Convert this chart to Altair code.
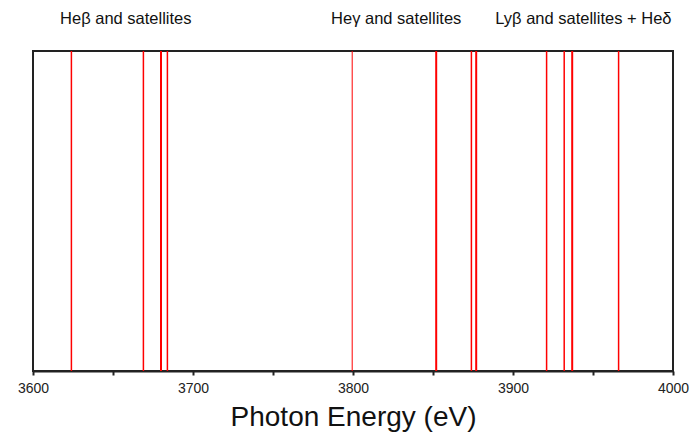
import altair as alt
import pandas as pd

# Line energies (eV)
line_energy = [3624, 3669, 3680, 3684, 3799.5, 3852, 3874, 3877, 3921, 3932, 3937, 3966]
line_width = [1.5, 1.5, 2, 1.5, 1, 2, 1.5, 2, 1.5, 1.5, 2, 1.5]

# Group labels
label_text = ["Heβ and satellites", "Heγ and satellites", "Lyβ and satellites + Heδ"]
label_energy = [3658, 3827, 3944]

tick_values = [3600, 3650, 3700, 3750, 3800, 3850, 3900, 3950, 4000]

W, H = 640, 320
FONT = "Liberation Sans"

lines = pd.DataFrame({"E": line_energy, "w": line_width})
labels = pd.DataFrame({"E": label_energy, "t": label_text})

xscale = alt.Scale(domain=[3600, 4000], nice=False, zero=False)
xaxis = alt.Axis(
    title="Photon Energy (eV)",
    values=tick_values,
    labelExpr="datum.value % 100 == 0 ? datum.label : ''",
    format="d",
    grid=False,
    domainColor="#222222",
    domainWidth=2,
    tickColor="#222222",
    tickWidth=2,
    tickSize=4,
    labelFont=FONT,
    labelFontSize=14,
    labelColor="#222222",
    labelPadding=6,
    labelFlush=False,
    titleFont=FONT,
    titleFontSize=28,
    titleFontWeight="normal",
    titleColor="#111111",
    titlePadding=8,
)

rules = alt.Chart(lines).mark_rule(color="#ff0000").encode(
    x=alt.X("E:Q", scale=xscale, axis=xaxis),
    y=alt.value(0),
    y2=alt.value(H),
    strokeWidth=alt.StrokeWidth("w:Q", scale=None, legend=None),
)

texts = alt.Chart(labels).mark_text(
    font=FONT, fontSize=16.5, color="#111111", align="center", baseline="alphabetic"
).encode(
    x=alt.X("E:Q", scale=xscale),
    y=alt.value(-27),
    text="t:N",
)

chart = alt.layer(rules, texts).properties(
    width=W,
    height=H,
    autosize=alt.AutoSizeParams(type="none"),
    padding={"left": 33, "top": 51, "right": 19, "bottom": 67},
    background="white",
).configure_view(
    stroke="#222222", strokeWidth=2
)

chart.save("out.html", embed_options={"renderer": "svg", "actions": False})
